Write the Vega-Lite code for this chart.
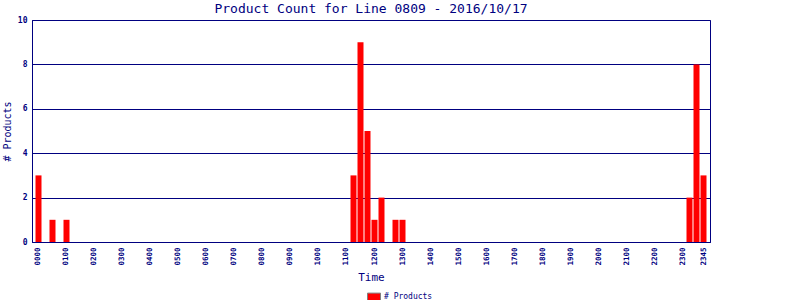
{
  "$schema": "https://vega.github.io/schema/vega-lite/v6.json",
  "width": 678,
  "height": 222,
  "autosize": "none",
  "padding": {"left": 32, "top": 20, "right": 90, "bottom": 58},
  "background": "white",
  "title": {"text": "Product Count for Line 0809 - 2016/10/17", "font": "DejaVu Sans Mono", "fontSize": 13, "fontWeight": "normal", "color": "#000080", "anchor": "middle", "offset": 0},
  "config": {"view": {"stroke": "#000080", "strokeWidth": 1}},
  "data": {"values": [
    {"time": "0000", "count": 3}, {"time": "0015", "count": 0}, {"time": "0030", "count": 1}, {"time": "0045", "count": 0},
    {"time": "0100", "count": 1}, {"time": "0115", "count": 0}, {"time": "0130", "count": 0}, {"time": "0145", "count": 0},
    {"time": "0200", "count": 0}, {"time": "0215", "count": 0}, {"time": "0230", "count": 0}, {"time": "0245", "count": 0},
    {"time": "0300", "count": 0}, {"time": "0315", "count": 0}, {"time": "0330", "count": 0}, {"time": "0345", "count": 0},
    {"time": "0400", "count": 0}, {"time": "0415", "count": 0}, {"time": "0430", "count": 0}, {"time": "0445", "count": 0},
    {"time": "0500", "count": 0}, {"time": "0515", "count": 0}, {"time": "0530", "count": 0}, {"time": "0545", "count": 0},
    {"time": "0600", "count": 0}, {"time": "0615", "count": 0}, {"time": "0630", "count": 0}, {"time": "0645", "count": 0},
    {"time": "0700", "count": 0}, {"time": "0715", "count": 0}, {"time": "0730", "count": 0}, {"time": "0745", "count": 0},
    {"time": "0800", "count": 0}, {"time": "0815", "count": 0}, {"time": "0830", "count": 0}, {"time": "0845", "count": 0},
    {"time": "0900", "count": 0}, {"time": "0915", "count": 0}, {"time": "0930", "count": 0}, {"time": "0945", "count": 0},
    {"time": "1000", "count": 0}, {"time": "1015", "count": 0}, {"time": "1030", "count": 0}, {"time": "1045", "count": 0},
    {"time": "1100", "count": 0}, {"time": "1115", "count": 3}, {"time": "1130", "count": 9}, {"time": "1145", "count": 5},
    {"time": "1200", "count": 1}, {"time": "1215", "count": 2}, {"time": "1230", "count": 0}, {"time": "1245", "count": 1},
    {"time": "1300", "count": 1}, {"time": "1315", "count": 0}, {"time": "1330", "count": 0}, {"time": "1345", "count": 0},
    {"time": "1400", "count": 0}, {"time": "1415", "count": 0}, {"time": "1430", "count": 0}, {"time": "1445", "count": 0},
    {"time": "1500", "count": 0}, {"time": "1515", "count": 0}, {"time": "1530", "count": 0}, {"time": "1545", "count": 0},
    {"time": "1600", "count": 0}, {"time": "1615", "count": 0}, {"time": "1630", "count": 0}, {"time": "1645", "count": 0},
    {"time": "1700", "count": 0}, {"time": "1715", "count": 0}, {"time": "1730", "count": 0}, {"time": "1745", "count": 0},
    {"time": "1800", "count": 0}, {"time": "1815", "count": 0}, {"time": "1830", "count": 0}, {"time": "1845", "count": 0},
    {"time": "1900", "count": 0}, {"time": "1915", "count": 0}, {"time": "1930", "count": 0}, {"time": "1945", "count": 0},
    {"time": "2000", "count": 0}, {"time": "2015", "count": 0}, {"time": "2030", "count": 0}, {"time": "2045", "count": 0},
    {"time": "2100", "count": 0}, {"time": "2115", "count": 0}, {"time": "2130", "count": 0}, {"time": "2145", "count": 0},
    {"time": "2200", "count": 0}, {"time": "2215", "count": 0}, {"time": "2230", "count": 0}, {"time": "2245", "count": 0},
    {"time": "2300", "count": 0}, {"time": "2315", "count": 2}, {"time": "2330", "count": 8}, {"time": "2345", "count": 3}
  ]},
  "mark": {"type": "bar", "color": "#ff0000"},
  "encoding": {
    "x": {
      "field": "time", "type": "ordinal", "sort": null,
      "scale": {"paddingInner": 0.143, "paddingOuter": 0.5},
      "axis": {
        "title": "Time", "titleFont": "DejaVu Sans Mono", "titleFontSize": 11, "titleFontWeight": "normal", "titleColor": "#000080", "titlePadding": 6,
        "labelFont": "DejaVu Sans Mono", "labelFontSize": 7.5, "labelFontWeight": "bold", "labelColor": "#000080",
        "labelAngle": -90, "labelPadding": 5, "labelOverlap": false,
        "labelExpr": "slice(datum.value, 2) == '00' || datum.value == '2345' ? datum.value : ''",
        "ticks": false, "grid": false, "domainColor": "#000080", "domainWidth": 1
      }
    },
    "y": {
      "field": "count", "type": "quantitative",
      "scale": {"domain": [0, 10], "nice": false},
      "axis": {
        "title": "# Products", "titleFont": "DejaVu Sans Mono", "titleFontSize": 10, "titleFontWeight": "normal", "titleColor": "#000080", "titlePadding": 5,
        "values": [0, 2, 4, 6, 8, 10],
        "labelFont": "DejaVu Sans Mono", "labelFontSize": 8, "labelFontWeight": "bold", "labelColor": "#000080", "labelPadding": 5,
        "ticks": false, "grid": true, "gridColor": "#000080", "gridWidth": 1, "gridOpacity": 1,
        "domainColor": "#000080", "domainWidth": 1
      }
    },
    "color": {
      "datum": "# Products",
      "scale": {"range": ["#ff0000"]},
      "legend": {
        "title": null, "orient": "none", "legendX": 335, "legendY": 270,
        "symbolType": "M-1,-0.6H1V0.6H-1Z", "symbolSize": 169, "symbolStrokeColor": "#808080", "symbolStrokeWidth": 1, "symbolOpacity": 1,
        "labelFont": "DejaVu Sans Mono", "labelFontSize": 8, "labelColor": "#000080", "labelOffset": 3
      }
    }
  }
}
